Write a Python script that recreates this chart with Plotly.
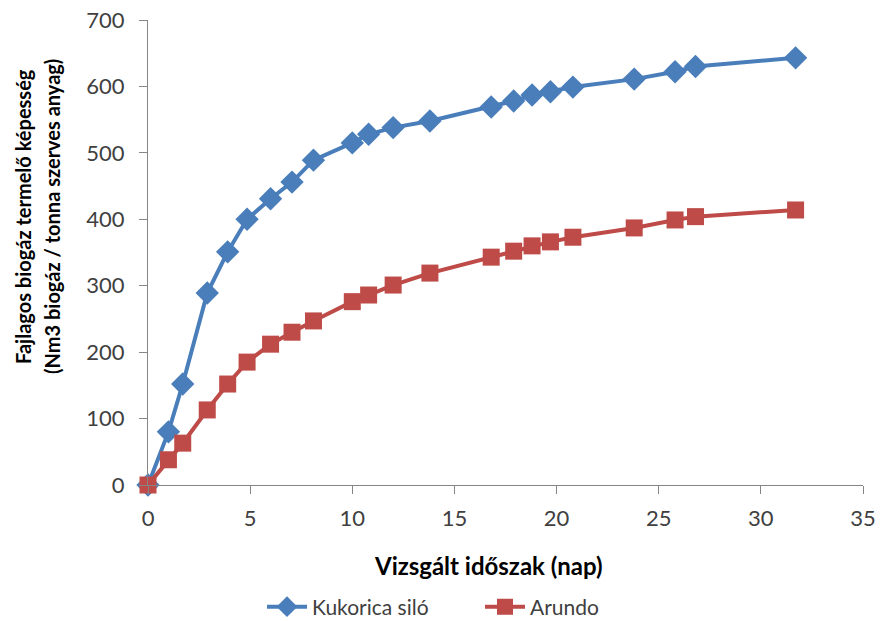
import plotly.graph_objects as go

days = [0, 1, 1.7, 2.9, 3.9, 4.85, 6.0, 7.05, 8.1, 10.0, 10.8, 12.0, 13.8,
        16.8, 17.9, 18.8, 19.7, 20.8, 23.8, 25.8, 26.8, 31.7]
kukorica = [0, 80, 152, 289, 351, 400, 431, 456, 489, 515, 528, 538, 548,
            569, 578, 587, 592, 599, 611, 622, 630, 643]
arundo = [0, 38, 63, 113, 152, 185, 212, 230, 247, 276, 286, 301, 319,
          343, 352, 360, 366, 373, 387, 399, 404, 414]

x_title = "Vizsgált időszak (nap)"
y_title_lines = ["Fajlagos biogáz termelő képesség", "(Nm3 biogáz / tonna szerves anyag)"]
names = ["Kukorica siló", "Arundo"]

blue = "#4A7EBB"
red = "#BE4B48"
font = "Lato, Carlito, Calibri, sans-serif"

fig = go.Figure()
fig.add_trace(go.Scatter(x=days, y=kukorica, name=names[0], mode="lines+markers",
                         line=dict(color=blue, width=4),
                         marker=dict(symbol="diamond", size=18, color=blue),
                         cliponaxis=False))
fig.add_trace(go.Scatter(x=days, y=arundo, name=names[1], mode="lines+markers",
                         line=dict(color=red, width=4),
                         marker=dict(symbol="square", size=17, color=red),
                         cliponaxis=False))

axis_common = dict(showgrid=False, zeroline=False, showline=True, linecolor="#868686",
                   linewidth=1, ticks="outside", ticklen=8, tickcolor="#868686",
                   automargin=False,
                   tickfont=dict(family=font, size=22, color="#404040"))

# plot area in pixels: x 148..863, y 20..485
def px_x(p):
    return (p - 148) / 715.0

def px_y(p):
    return (485 - p) / 465.0

annotations = [
    dict(text="<b>" + x_title + "</b>", xref="paper", yref="paper", x=px_x(488), y=px_y(565),
         xanchor="center", yanchor="middle", showarrow=False,
         font=dict(family=font, size=24, color="black")),
]
for xc, line in zip([23, 52], y_title_lines):
    annotations.append(dict(text="<b>" + line + "</b>", xref="paper", yref="paper",
                            x=px_x(xc), y=px_y(217), xanchor="center", yanchor="middle",
                            showarrow=False, textangle=-90,
                            font=dict(family=font, size=20, color="black")))

fig.update_layout(
    width=882, height=621,
    margin=dict(l=148, r=19, t=20, b=136, autoexpand=False),
    paper_bgcolor="white", plot_bgcolor="white",
    xaxis=dict(range=[0, 35], tickvals=[0, 5, 10, 15, 20, 25, 30, 35],
               ticklabelstandoff=6, **axis_common),
    yaxis=dict(range=[0, 700], tickvals=[0, 100, 200, 300, 400, 500, 600, 700],
               ticklabelstandoff=10, **axis_common),
    legend=dict(orientation="h", x=px_x(480), xanchor="center", y=px_y(607), yanchor="middle",
                font=dict(family=font, size=21, color="#404040"), itemwidth=40,
                entrywidth=163, tracegroupgap=0),
    showlegend=True,
    annotations=annotations,
)

fig.write_html("out.html")
